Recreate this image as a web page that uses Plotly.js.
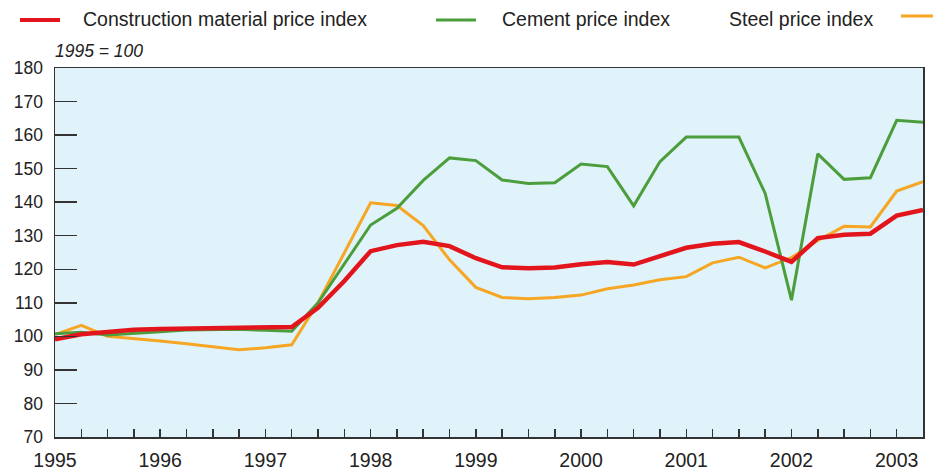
<!DOCTYPE html>
<html>
<head>
<meta charset="utf-8">
<script src="https://cdn.plot.ly/plotly-3.0.1.min.js"></script>
<style>
  html, body { margin: 0; padding: 0; background: #ffffff; }
  #chart { width: 933px; height: 473px; }
</style>
</head>
<body>
<div id="chart"></div>
<script>
// Quarterly observations (decimal year)
const quarters = [
  1995, 1995.25, 1995.5, 1995.75,
  1996, 1996.25, 1996.5, 1996.75,
  1997, 1997.25, 1997.5, 1997.75,
  1998, 1998.25, 1998.5, 1998.75,
  1999, 1999.25, 1999.5, 1999.75,
  2000, 2000.25, 2000.5, 2000.75,
  2001, 2001.25, 2001.5, 2001.75,
  2002, 2002.25, 2002.5, 2002.75,
  2003, 2003.25
];

const constructionName = "Construction material price index";
const construction = [
  99.1, 100.6, 101.3, 102.0,
  102.2, 102.3, 102.4, 102.4,
  102.5, 102.8, 108.5, 116.5,
  125.4, 127.2, 128.2, 126.9,
  123.3, 120.6, 120.3, 120.5,
  121.5, 122.2, 121.4, 124.0,
  126.4, 127.6, 128.1, 125.3,
  122.2, 129.3, 130.3, 130.6,
  136.0, 137.7
];

const cementName = "Cement price index";
const cement = [
  100.8, 101.2, 100.4, 100.8,
  101.4, 101.9, 102.1, 102.1,
  101.8, 101.5, 110.0, 121.5,
  133.2, 138.2, 146.5, 153.2,
  152.4, 146.6, 145.6, 145.8,
  151.4, 150.6, 138.9, 152.1,
  159.4, 159.4, 159.4, 142.6,
  110.8, 154.4, 146.8, 147.3,
  164.4, 163.8
];

const steelName = "Steel price index";
const steel = [
  100.5, 103.3, 100.0, 99.4,
  98.6, 97.8, 96.9, 96.0,
  96.6, 97.5, 110.0, 125.0,
  139.8, 139.0, 133.0, 122.8,
  114.6, 111.6, 111.2, 111.6,
  112.3, 114.2, 115.3, 116.9,
  117.8, 121.9, 123.6, 120.4,
  123.5, 128.6, 132.8, 132.6,
  143.3, 146.1
];

const yearTicks = [1995, 1996, 1997, 1998, 1999, 2000, 2001, 2002, 2003];
const yearLabels = ["1995", "1996", "1997", "1998", "1999", "2000", "2001", "2002", "2003"];
const baseNote = "1995 = 100";

const RED = "#e3151c", GREEN = "#4c9e3c", ORANGE = "#f6a623";
const FONT = "Liberation Sans, Arial, Helvetica, sans-serif";

// plot-area geometry in pixels (for legend placement in paper coords)
const L = 55, R = 10, T = 68, B = 36, W = 933, H = 473;
const pw = W - L - R, ph = H - T - B;
const px = p => (p - L) / pw;
const py = p => (H - B - p) / ph;

const traces = [
  { x: quarters, y: steel, name: steelName, mode: "lines",
    line: { color: ORANGE, width: 3 } },
  { x: quarters, y: cement, name: cementName, mode: "lines",
    line: { color: GREEN, width: 3 } },
  { x: quarters, y: construction, name: constructionName, mode: "lines",
    line: { color: RED, width: 4.5 } }
];

const legendY = 19;
const layout = {
  width: W, height: H,
  margin: { l: L, r: R, t: T, b: B, pad: 0 },
  paper_bgcolor: "#ffffff",
  plot_bgcolor: "#e0f2fa",
  showlegend: false,
  font: { family: FONT, color: "#222222" },
  xaxis: {
    range: [1995, 2003.25],
    tickmode: "array",
    tickvals: yearTicks,
    ticktext: yearLabels,
    ticks: "inside", ticklen: 8, tickwidth: 1.5, tickcolor: "#333333",
    minor: { dtick: 0.25, tick0: 1995, ticks: "inside", ticklen: 8, tickwidth: 1.5, tickcolor: "#333333", showgrid: false },
    showgrid: false, zeroline: false,
    showline: true, mirror: true, linecolor: "#333333", linewidth: 1.5,
    tickfont: { size: 19.5, family: FONT, color: "#222222" },
    ticklabelstandoff: 5
  },
  yaxis: {
    range: [70, 180],
    tickmode: "linear", tick0: 70, dtick: 10,
    ticks: "inside", ticklen: 22, tickwidth: 1.5, tickcolor: "#333333",
    showgrid: false, zeroline: false,
    showline: true, mirror: true, linecolor: "#333333", linewidth: 1.5,
    tickfont: { size: 17.5, family: FONT, color: "#222222" },
    ticklabelstandoff: 7
  },
  shapes: [
    { type: "line", xref: "paper", yref: "paper", x0: px(20), x1: px(60), y0: py(20), y1: py(20), line: { color: RED, width: 4 } },
    { type: "line", xref: "paper", yref: "paper", x0: px(436), x1: px(476), y0: py(20), y1: py(20), line: { color: GREEN, width: 3 } },
    { type: "line", xref: "paper", yref: "paper", x0: px(901), x1: px(940), y0: py(16), y1: py(16), line: { color: ORANGE, width: 3 } }
  ],
  annotations: [
    { text: constructionName, xref: "paper", yref: "paper", x: px(81), y: py(legendY), xanchor: "left", yanchor: "middle", showarrow: false, font: { size: 19.5, family: FONT, color: "#222222" } },
    { text: cementName, xref: "paper", yref: "paper", x: px(500), y: py(legendY), xanchor: "left", yanchor: "middle", showarrow: false, font: { size: 19.5, family: FONT, color: "#222222" } },
    { text: steelName, xref: "paper", yref: "paper", x: px(727), y: py(legendY), xanchor: "left", yanchor: "middle", showarrow: false, font: { size: 19.5, family: FONT, color: "#222222" } },
    { text: "<i>" + baseNote + "</i>", xref: "paper", yref: "paper", x: px(53), y: py(51), xanchor: "left", yanchor: "middle", showarrow: false, font: { size: 17.5, family: FONT, color: "#222222" } }
  ]
};

Plotly.newPlot("chart", traces, layout, { displayModeBar: false, staticPlot: true });
</script>
</body>
</html>
